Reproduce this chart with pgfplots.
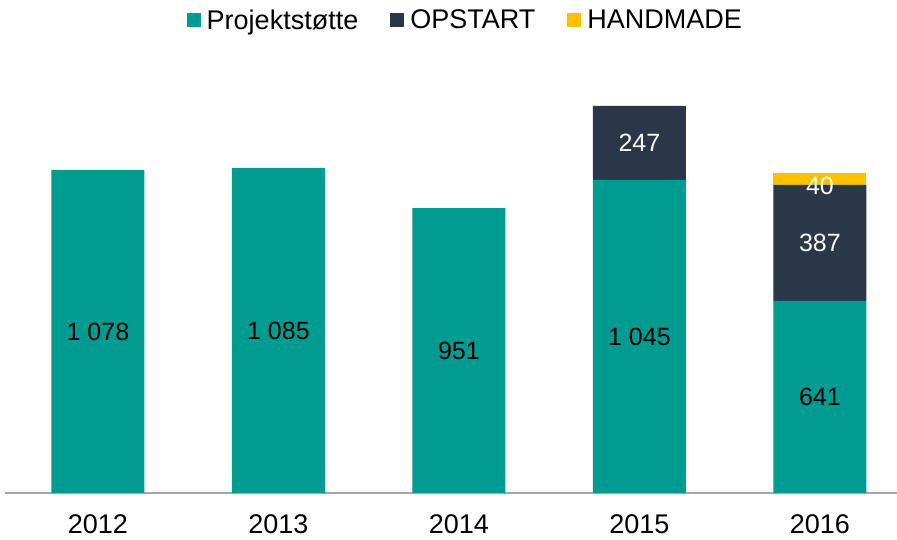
\documentclass[border=0pt]{standalone}
\usepackage{fontspec}
\setmainfont{Liberation Sans}
\usepackage{pgfplots}
\pgfplotsset{compat=1.18}
\definecolor{tealbar}{HTML}{009B91}
\definecolor{navybar}{HTML}{293748}
\definecolor{yellowbar}{HTML}{FFC000}
\definecolor{axisgray}{HTML}{A6A6A6}

\begin{document}
\begin{tikzpicture}
\useasboundingbox (0,0) rectangle (897pt,540pt);
\begin{axis}[
    at={(5pt,47pt)}, anchor=south west,
    scale only axis,
    width=892pt, height=433pt,
    ybar stacked,
    bar width=93pt,
    xmin=-0.515, xmax=4.427,
    ymin=0, ymax=1445,
    hide y axis,
    axis x line*=bottom,
    x axis line style={axisgray, line width=1.5pt},
    xtick=data,
    xticklabels={2012,2013,2014,2015,2016},
    major tick length=0pt,
    xticklabel style={anchor=center, yshift=-31pt},
    /pgf/number format/assume math mode=true,
    font=\fontsize{27}{31}\selectfont,
    tick label style={font=\fontsize{27}{31}\selectfont},
    nodes near coords={\pgfmathfloatifflags{\pgfplotspointmeta}{0}{}{\pgfmathprintnumber[1000 sep={\ }]{\pgfplotspointmeta}}},
    every node near coord/.append style={anchor=center, font=\fontsize{25}{30}\selectfont},
    legend style={draw=none, fill=none, legend columns=3,
        at={(0.516,1.092)}, anchor=center,
        font=\fontsize{27}{31}\selectfont,
        nodes={inner sep=2pt},
        /tikz/every odd column/.append style={column sep=4pt},
        /tikz/every even column/.append style={column sep=30pt}},
    legend image code/.code={\fill[#1] (0pt,-7pt) rectangle (14pt,7pt);},
    clip=false,
]
\addplot[fill=tealbar, draw=none, every node near coord/.append style={text=black}] coordinates {
    (0,1078) (1,1085) (2,951) (3,1045) (4,641)
};
\addplot[fill=navybar, draw=none, every node near coord/.append style={text=white}] coordinates {
    (0,0) (1,0) (2,0) (3,247) (4,387)
};
\addplot[fill=yellowbar, draw=none, every node near coord/.append style={text=white, yshift=-7pt}] coordinates {
    (0,0) (1,0) (2,0) (3,0) (4,40)
};
\legend{Projektstøtte, OPSTART, HANDMADE}
\end{axis}
\end{tikzpicture}
\end{document}
